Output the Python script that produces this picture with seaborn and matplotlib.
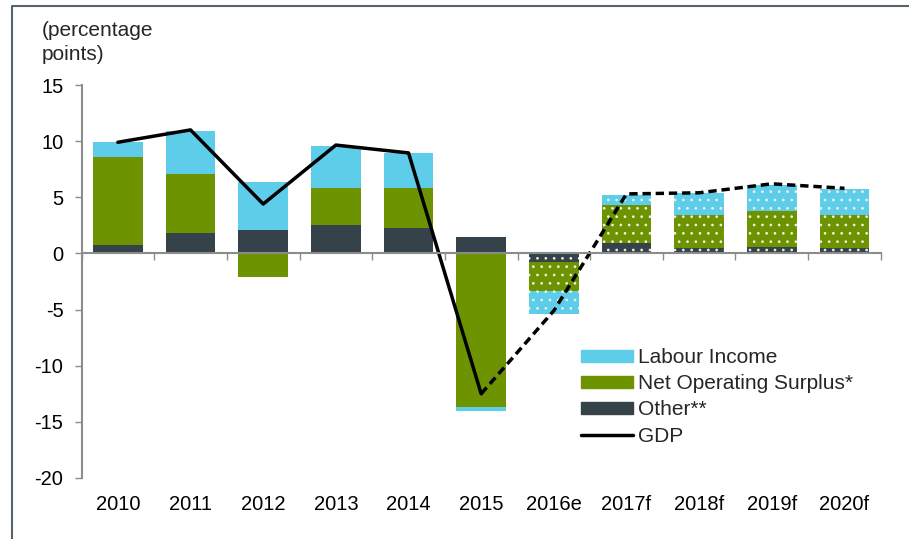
import numpy as np
import pandas as pd
import matplotlib.pyplot as plt
import seaborn as sns
from matplotlib.patches import Patch
from matplotlib.lines import Line2D

# contributions to GDP growth, percentage points
years = ['2010', '2011', '2012', '2013', '2014', '2015',
         '2016e', '2017f', '2018f', '2019f', '2020f']
labour = [1.35, 3.8, 4.35, 3.7, 3.1, -0.35, -2.05, 0.85, 1.95, 2.3, 2.3]
surplus = [7.8, 5.25, -2.1, 3.35, 3.55, -13.7, -2.6, 3.4, 2.95, 3.2, 2.95]
other = [0.75, 1.85, 2.05, 2.5, 2.25, 1.5, -0.75, 0.95, 0.5, 0.6, 0.5]
gdp = [9.9, 11.0, 4.4, 9.65, 8.95, -12.5, -5.1, 5.3, 5.4, 6.2, 5.8]
n_actual = 6  # 2010-2015 outturn, rest estimate / forecast

c_labour = '#5ecdea'
c_surplus = '#6e9300'
c_other = '#35424a'
grey = '#8c8c8c'

sns.set_theme(style='ticks')
plt.rcParams['font.family'] = ['Liberation Sans', 'DejaVu Sans']
plt.rcParams['axes.unicode_minus'] = False
plt.rcParams['hatch.linewidth'] = 0.7

fig = plt.figure(figsize=(9.09, 5.39), dpi=100)
ax = fig.add_axes([0.0897, 0.1132, 0.8793, 0.7291])

x = np.arange(len(years))
pos = np.zeros(len(years))
neg = np.zeros(len(years))
for vals, color in [(other, c_other), (surplus, c_surplus), (labour, c_labour)]:
    vals = np.array(vals)
    base = np.where(vals >= 0, pos, neg)
    bars = ax.bar(x, vals, 0.68, bottom=base, color=color, linewidth=0)
    pos += np.clip(vals, 0, None)
    neg += np.clip(vals, None, 0)
    # dotted fill for the estimate / forecast years
    for b in bars[n_actual:]:
        b.set_hatch('..')
        b.set_edgecolor('#eef4ea')

df = pd.DataFrame({'x': x, 'gdp': gdp})
sns.lineplot(data=df.iloc[:n_actual], x='x', y='gdp', color='black',
             lw=2.5, ax=ax)
sns.lineplot(data=df.iloc[n_actual - 1:], x='x', y='gdp', color='black',
             lw=2.5, linestyle=(0, (2.4, 1.4)), ax=ax)

ax.set_xlim(-0.5, 10.5)
ax.set_ylim(-20, 15)
ax.set_yticks(range(-20, 16, 5))
ax.set_xlabel('')
ax.set_ylabel('')

sns.despine(ax=ax)
ax.spines['bottom'].set_position(('data', 0))
for s in ['bottom', 'left']:
    ax.spines[s].set_color(grey)
    ax.spines[s].set_linewidth(1.5)

ax.set_xticks(np.arange(-0.5, 11, 1))
ax.set_xticklabels([])
ax.tick_params(axis='x', direction='out', length=5, width=1, color=grey)
ax.tick_params(axis='y', direction='out', length=5, width=1, color=grey,
               labelsize=14.5, pad=8, labelcolor='black')

sec = ax.secondary_xaxis('bottom')
sec.set_xticks(x, labels=years)
sec.spines['bottom'].set_visible(False)
sec.tick_params(length=0, pad=12, labelsize=14.5, labelcolor='black')

fig.text(42 / 909, 1 - 21 / 539, '(percentage\npoints)', fontsize=15,
         va='top', ha='left', linespacing=1.3)

handles = [Patch(color=c_labour), Patch(color=c_surplus),
           Patch(color=c_other), Line2D([], [], color='black', lw=2.5)]
labels = ['Labour Income', 'Net Operating Surplus*', 'Other**', 'GDP']
ax.legend(handles, labels, loc='upper left', bbox_to_anchor=(0.625, 0.33),
          frameon=False, fontsize=15, borderpad=0, handlelength=2.5,
          handleheight=0.53, handletextpad=0.25, labelspacing=0.34,
          borderaxespad=0)

# frame around the chart (only top and left edges fall inside the image)
fx = 12 / 909
fy = 1 - 6 / 539
fig.add_artist(Line2D([fx, fx, 1.0], [0.0, fy, fy], color='#56626c',
                      lw=1.5, transform=fig.transFigure))

fig.savefig('out.png', dpi=100)
